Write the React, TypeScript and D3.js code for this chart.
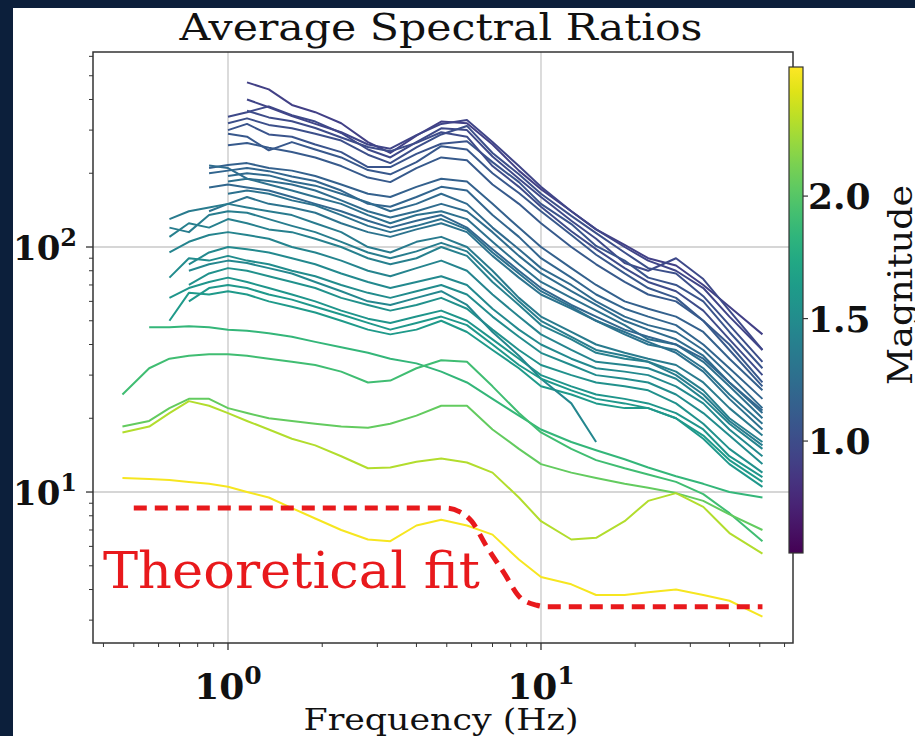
import React from 'react';
import * as d3 from 'd3';

const n = null;
// frequency grid (Hz)
const FREQ = [0.46, 0.56, 0.65, 0.75, 0.87, 1.0, 1.15, 1.35, 1.6, 1.9, 2.3, 2.8, 3.3, 4.0, 4.8, 5.8, 7.0, 8.5, 10, 12.5, 15, 18.5, 22, 27, 33, 40, 51];

// dark blue group
const D1 = [n, n, n, n, n, n, 470, 440, 380, 355, 320, 268, 242, 285, 325, 320, 262, 205, 172, 140, 118, 102, 90, 84, 70, 57, 44];
const D2 = [n, n, n, n, n, 340, 355, 375, 345, 325, 292, 250, 232, 268, 305, 300, 234, 190, 160, 128, 108, 86, 80, 90, 74, 55, 38];
const D3 = [n, n, n, n, n, 320, 335, 315, 305, 290, 272, 238, 220, 255, 288, 312, 242, 198, 165, 134, 114, 95, 82, 78, 63, 48, 34];
const D4 = [n, n, n, n, n, 300, 318, 288, 282, 262, 244, 212, 212, 240, 264, 270, 222, 184, 150, 124, 101, 88, 75, 70, 60, 45, 32];
const D5 = [n, n, n, n, n, n, 360, 338, 326, 306, 280, 256, 246, 266, 294, 282, 214, 176, 146, 116, 98, 82, 72, 66, 55, 42, 30];
const D6 = [n, n, n, n, n, 290, 282, 248, 268, 250, 232, 206, 198, 222, 258, 250, 200, 166, 140, 112, 93, 78, 68, 62, 50, 40, 28];
const D7 = [n, n, n, n, n, n, 400, 372, 342, 318, 294, 262, 252, 286, 318, 330, 268, 214, 176, 140, 118, 100, 88, 80, 68, 52, 38];
const D8 = [n, n, n, n, n, 260, 266, 254, 244, 232, 214, 192, 184, 210, 232, 226, 180, 150, 125, 100, 85, 72, 64, 60, 50, 38, 27];
// blue group
const B1 = [n, n, n, n, 210, 216, 220, 210, 205, 195, 180, 165, 160, 176, 190, 185, 150, 120, 100, 82, 70, 60, 56, 52, 45, 35, 26];
const B2 = [n, n, n, n, 200, 205, 210, 204, 194, 186, 170, 150, 146, 160, 176, 170, 135, 110, 90, 75, 64, 56, 52, 48, 40, 32, 24];
const B3 = [n, n, n, n, n, 195, 200, 196, 185, 178, 165, 152, 140, 150, 165, 150, 120, 98, 82, 70, 60, 52, 48, 45, 38, 30, 22];
const B4 = [n, n, n, n, 215, 210, 190, 186, 180, 170, 155, 140, 132, 140, 150, 140, 115, 92, 78, 66, 58, 50, 46, 42, 36, 28, 21];
const B5 = [n, n, n, n, n, 185, 190, 180, 170, 160, 150, 135, 125, 135, 140, 130, 105, 85, 72, 62, 55, 48, 42, 40, 34, 27, 20];
const B6 = [n, n, n, n, 140, 150, 160, 150, 145, 138, 125, 115, 110, 118, 125, 115, 92, 75, 64, 56, 50, 44, 40, 38, 32, 25, 19];
const B7 = [n, n, n, n, 175, 180, 175, 170, 160, 150, 140, 128, 120, 128, 135, 120, 98, 80, 68, 58, 52, 46, 43, 40, 35, 28, 21.5];
const B8 = [n, n, n, n, n, 165, 170, 165, 155, 148, 135, 122, 115, 122, 130, 118, 95, 78, 66, 57, 50, 45, 41, 37, 31, 24, 18];
// teal group
const T1 = [n, n, 130, 140, 145, 150, 145, 140, 135, 125, 115, 100, 95, 105, 110, 100, 80, 62, 52, 45, 40, 37, 35, 33, 28, 22, 17];
const T2 = [n, n, 110, 125, 120, 130, 125, 118, 115, 108, 100, 90, 85, 90, 100, 92, 72, 58, 48, 42, 37, 35, 34, 31, 26, 20, 16];
const T3 = [n, n, 95, 105, 112, 115, 112, 108, 100, 95, 88, 80, 76, 82, 88, 80, 64, 52, 44, 38, 34, 33, 32, 29, 24, 19, 15];
const T4 = [n, n, n, 85, 95, 100, 98, 95, 90, 85, 78, 72, 68, 72, 76, 70, 56, 46, 40, 35, 32, 31, 30, 27, 23, 18, 14];
const T5 = [n, n, 75, 90, 88, 92, 88, 85, 80, 76, 70, 65, 62, 66, 70, 64, 52, 43, 37, 33, 30, 29, 28, 25, 21, 17, 13];
const T6 = [n, n, n, 70, 78, 82, 80, 76, 72, 68, 62, 58, 55, 58, 62, 56, 46, 38, 33, 30, 28, 27, 26, 23, 19, 15, 12];
const T7 = [n, n, 62, 68, 72, 75, 72, 68, 64, 60, 55, 51, 49, 52, 55, 50, 42, 35, 30, 27, 25, 24, 23, 21, 18, 14, 11.5];
const T8 = [n, n, 50, 65, 64, 66, 64, 60, 57, 54, 50, 46, 44, 46, 50, 45, 38, 32, 27, 25, 23, 22, 22, 20, 17, 13.5, 11];
const T9 = [n, n, n, 80, 85, 88, 86, 82, 78, 72, 66, 60, 58, 62, 66, 58, 45, 36, 29, 23, 16, n, n, n, n, n, n];
const T10 = [n, n, 120, 115, 135, 140, 138, 130, 122, 115, 105, 95, 90, 96, 104, 96, 76, 60, 50, 43, 38, 36, 34, 30, 25, 19.5, 15.5];
const T11 = [n, n, n, 60, 68, 70, 68, 64, 61, 57, 53, 49, 46, 49, 52, 48, 40, 33, 29, 26, 24, 23, 22, 20, 16.5, 13, 10.5];
// green / yellow group
const L1 = [n, 47, 47, 47.5, 47, 46, 45.5, 44.5, 43, 41, 39, 37, 35, 33.5, 31, 28, 24, 20.5, 18, 16, 14.8, 13.6, 12.6, 11.6, 10.8, 10, 9.5];
const L2 = [25, 32, 35, 36, 36.5, 36.5, 36, 35, 34, 33, 31, 28, 28.5, 32, 34.5, 34, 27, 21, 17.5, 15, 13.5, 12.5, 11.8, 11, 9.8, 8.2, 6.3];
const L3 = [18.5, 19.5, 22, 24, 24, 22, 21, 20, 19.5, 19, 18.5, 18.3, 19, 20.5, 22.5, 22.5, 18, 15, 13, 12, 11.4, 10.8, 10.4, 9.9, 9.2, 8.1, 7.0];
const L4 = [17.5, 18.5, 21, 23.5, 22.5, 21, 19.5, 18, 16.5, 15.5, 14, 12.5, 12.6, 13.3, 13.7, 13.2, 12, 9.5, 7.6, 6.4, 6.5, 7.6, 9.2, 9.9, 8.7, 6.8, 5.6];
const Y1 = [11.4, 11.3, 11.2, 11.0, 10.8, 10.5, 10.0, 9.5, 8.6, 7.8, 7.0, 6.4, 6.3, 7.3, 7.7, 7.3, 6.7, 5.3, 4.5, 4.2, 3.8, 3.8, 3.9, 4.0, 3.8, 3.6, 3.1];

const SERIES = [D1, D2, D3, D4, D5, D6, D7, D8, B1, B2, B3, B4, B5, B6, B7, B8, T1, T2, T3, T4, T5, T6, T7, T8, T9, T10, T11, L1, L2, L3, L4, Y1];
const MAGS = [0.92, 0.98, 1.02, 1.06, 1.0, 1.08, 0.95, 1.1, 1.15, 1.18, 1.22, 1.24, 1.27, 1.3, 1.2, 1.28, 1.36, 1.4, 1.44, 1.48, 1.5, 1.54, 1.58, 1.62, 1.46, 1.38, 1.6, 1.86, 1.92, 2.05, 2.3, 2.5];

// theoretical fit
const FIT_FREQ = [0.5, 5.0, 5.5, 6.0, 6.7, 7.6, 8.6, 9.7, 10.5, 51];
const FIT_VAL = [8.6, 8.6, 8.3, 7.6, 6.0, 4.7, 3.7, 3.45, 3.4, 3.4];

const X_MAJOR = [1, 10];
const X_EXP = ['0', '1'];
const Y_MAJOR = [10, 100];
const Y_EXP = ['1', '2'];
const CB_TICKS = [1.0, 1.5, 2.0];
const CB_LABELS = ['1.0', '1.5', '2.0'];

const W = 915, H = 736;
const L = 93, R = 793, T = 52, B = 643;
const CB = { x: 789, w: 14, top: 67, bottom: 553 };
const CB_DOMAIN = [0.543, 2.527];
const SERIF = 'DejaVu Serif, serif';

export default function App() {
  const x = d3.scaleLog().domain([0.3704, 63.85]).range([L, R]);
  const y = d3.scaleLog().domain([2.42, 625]).range([B, T]);
  const cbScale = d3.scaleLinear().domain(CB_DOMAIN).range([CB.bottom, CB.top]);
  const color = (m: number) => d3.interpolateViridis((m - CB_DOMAIN[0]) / (CB_DOMAIN[1] - CB_DOMAIN[0]));

  const line = d3.line<number | null>()
    .defined((d) => d != null)
    .x((_, i) => x(FREQ[i]))
    .y((d) => y(d as number));

  const fitLine = d3.line<number>()
    .x((_, i) => x(FIT_FREQ[i]))
    .y((d) => y(d))
    .curve(d3.curveMonotoneX);

  const xMinor: number[] = [];
  for (const dec of [0.1, 1, 10]) for (let k = 2; k <= 9; k++) {
    const v = dec * k;
    if (v >= x.domain()[0] && v <= x.domain()[1]) xMinor.push(v);
  }
  const yMinor: number[] = [];
  for (const dec of [1, 10, 100]) for (let k = 2; k <= 9; k++) {
    const v = dec * k;
    if (v >= y.domain()[0] && v <= y.domain()[1]) yMinor.push(v);
  }
  const stops = d3.range(0, 1.0001, 0.05);

  return (
    <svg width={W} height={H} style={{ position: 'absolute', left: 0, top: 0 }}>
      <defs>
        <linearGradient id="vir" x1="0" y1="1" x2="0" y2="0">
          {stops.map((t) => (
            <stop key={t} offset={t} stopColor={d3.interpolateViridis(t)} />
          ))}
        </linearGradient>
      </defs>
      <rect x={0} y={0} width={W} height={H} fill="#0c1f3b" />
      <rect x={13} y={8} width={W - 13} height={H - 8} fill="#ffffff" />

      {/* grid */}
      {X_MAJOR.map((v) => (
        <line key={'gx' + v} x1={x(v)} x2={x(v)} y1={T} y2={B} stroke="#c8c8c8" strokeWidth={1.3} />
      ))}
      {Y_MAJOR.map((v) => (
        <line key={'gy' + v} x1={L} x2={R} y1={y(v)} y2={y(v)} stroke="#c8c8c8" strokeWidth={1.3} />
      ))}

      {/* data */}
      {SERIES.map((s, i) => (
        <path key={i} d={line(s) || ''} fill="none" stroke={color(MAGS[i])} strokeWidth={2} strokeLinejoin="round" />
      ))}

      {/* fit */}
      <path d={fitLine(FIT_VAL) || ''} fill="none" stroke="#e8191c" strokeWidth={5} strokeDasharray="13,8" />
      <text x={103} y={588} fill="#e8191c" fontFamily={SERIF} fontSize={50} textLength={377} lengthAdjust="spacingAndGlyphs">Theoretical fit</text>

      {/* spines */}
      <rect x={L} y={T} width={R - L} height={B - T} fill="none" stroke="#333" strokeWidth={1.5} />

      {/* x ticks */}
      {X_MAJOR.map((v) => (
        <line key={'xt' + v} x1={x(v)} x2={x(v)} y1={B} y2={B + 7} stroke="#333" strokeWidth={1.3} />
      ))}
      {xMinor.map((v) => (
        <line key={'xm' + v} x1={x(v)} x2={x(v)} y1={B} y2={B + 4} stroke="#333" strokeWidth={1} />
      ))}
      {X_MAJOR.map((v, i) => (
        <text key={'xl' + v} x={x(v)} y={699} textAnchor="middle" fontFamily={SERIF} fontWeight="bold" fontSize={36} fill="#111">
          10<tspan dy={-15} fontSize={25}>{X_EXP[i]}</tspan>
        </text>
      ))}
      <text x={441} y={730} textAnchor="middle" fontFamily={SERIF} fontSize={30} fill="#111" textLength={275} lengthAdjust="spacingAndGlyphs">Frequency (Hz)</text>

      {/* y ticks */}
      {Y_MAJOR.map((v) => (
        <line key={'yt' + v} x1={L - 7} x2={L} y1={y(v)} y2={y(v)} stroke="#333" strokeWidth={1.3} />
      ))}
      {yMinor.map((v) => (
        <line key={'ym' + v} x1={L - 4} x2={L} y1={y(v)} y2={y(v)} stroke="#333" strokeWidth={1} />
      ))}
      {Y_MAJOR.map((v, i) => (
        <text key={'yl' + v} x={13} y={y(v) + 13} fontFamily={SERIF} fontWeight="bold" fontSize={34} fill="#111">
          10<tspan dy={-14} fontSize={24}>{Y_EXP[i]}</tspan>
        </text>
      ))}

      {/* title */}
      <text x={441} y={40} textAnchor="middle" fontFamily={SERIF} fontSize={38} fill="#111" textLength={523} lengthAdjust="spacingAndGlyphs">Average Spectral Ratios</text>

      {/* colorbar */}
      <rect x={CB.x} y={CB.top} width={CB.w} height={CB.bottom - CB.top} fill="url(#vir)" stroke="#333" strokeWidth={1.2} />
      {CB_TICKS.map((v, i) => (
        <g key={'cb' + v}>
          <line x1={CB.x + CB.w} x2={CB.x + CB.w + 5} y1={cbScale(v)} y2={cbScale(v)} stroke="#333" strokeWidth={1.2} />
          <text x={808} y={cbScale(v) + 13} fontFamily={SERIF} fontWeight="bold" fontSize={36} fill="#111">{CB_LABELS[i]}</text>
        </g>
      ))}
      <text transform="translate(912,285) rotate(-90)" textAnchor="middle" fontFamily={SERIF} fontSize={33} fill="#111" textLength={200} lengthAdjust="spacingAndGlyphs">Magnitude</text>
    </svg>
  );
}
